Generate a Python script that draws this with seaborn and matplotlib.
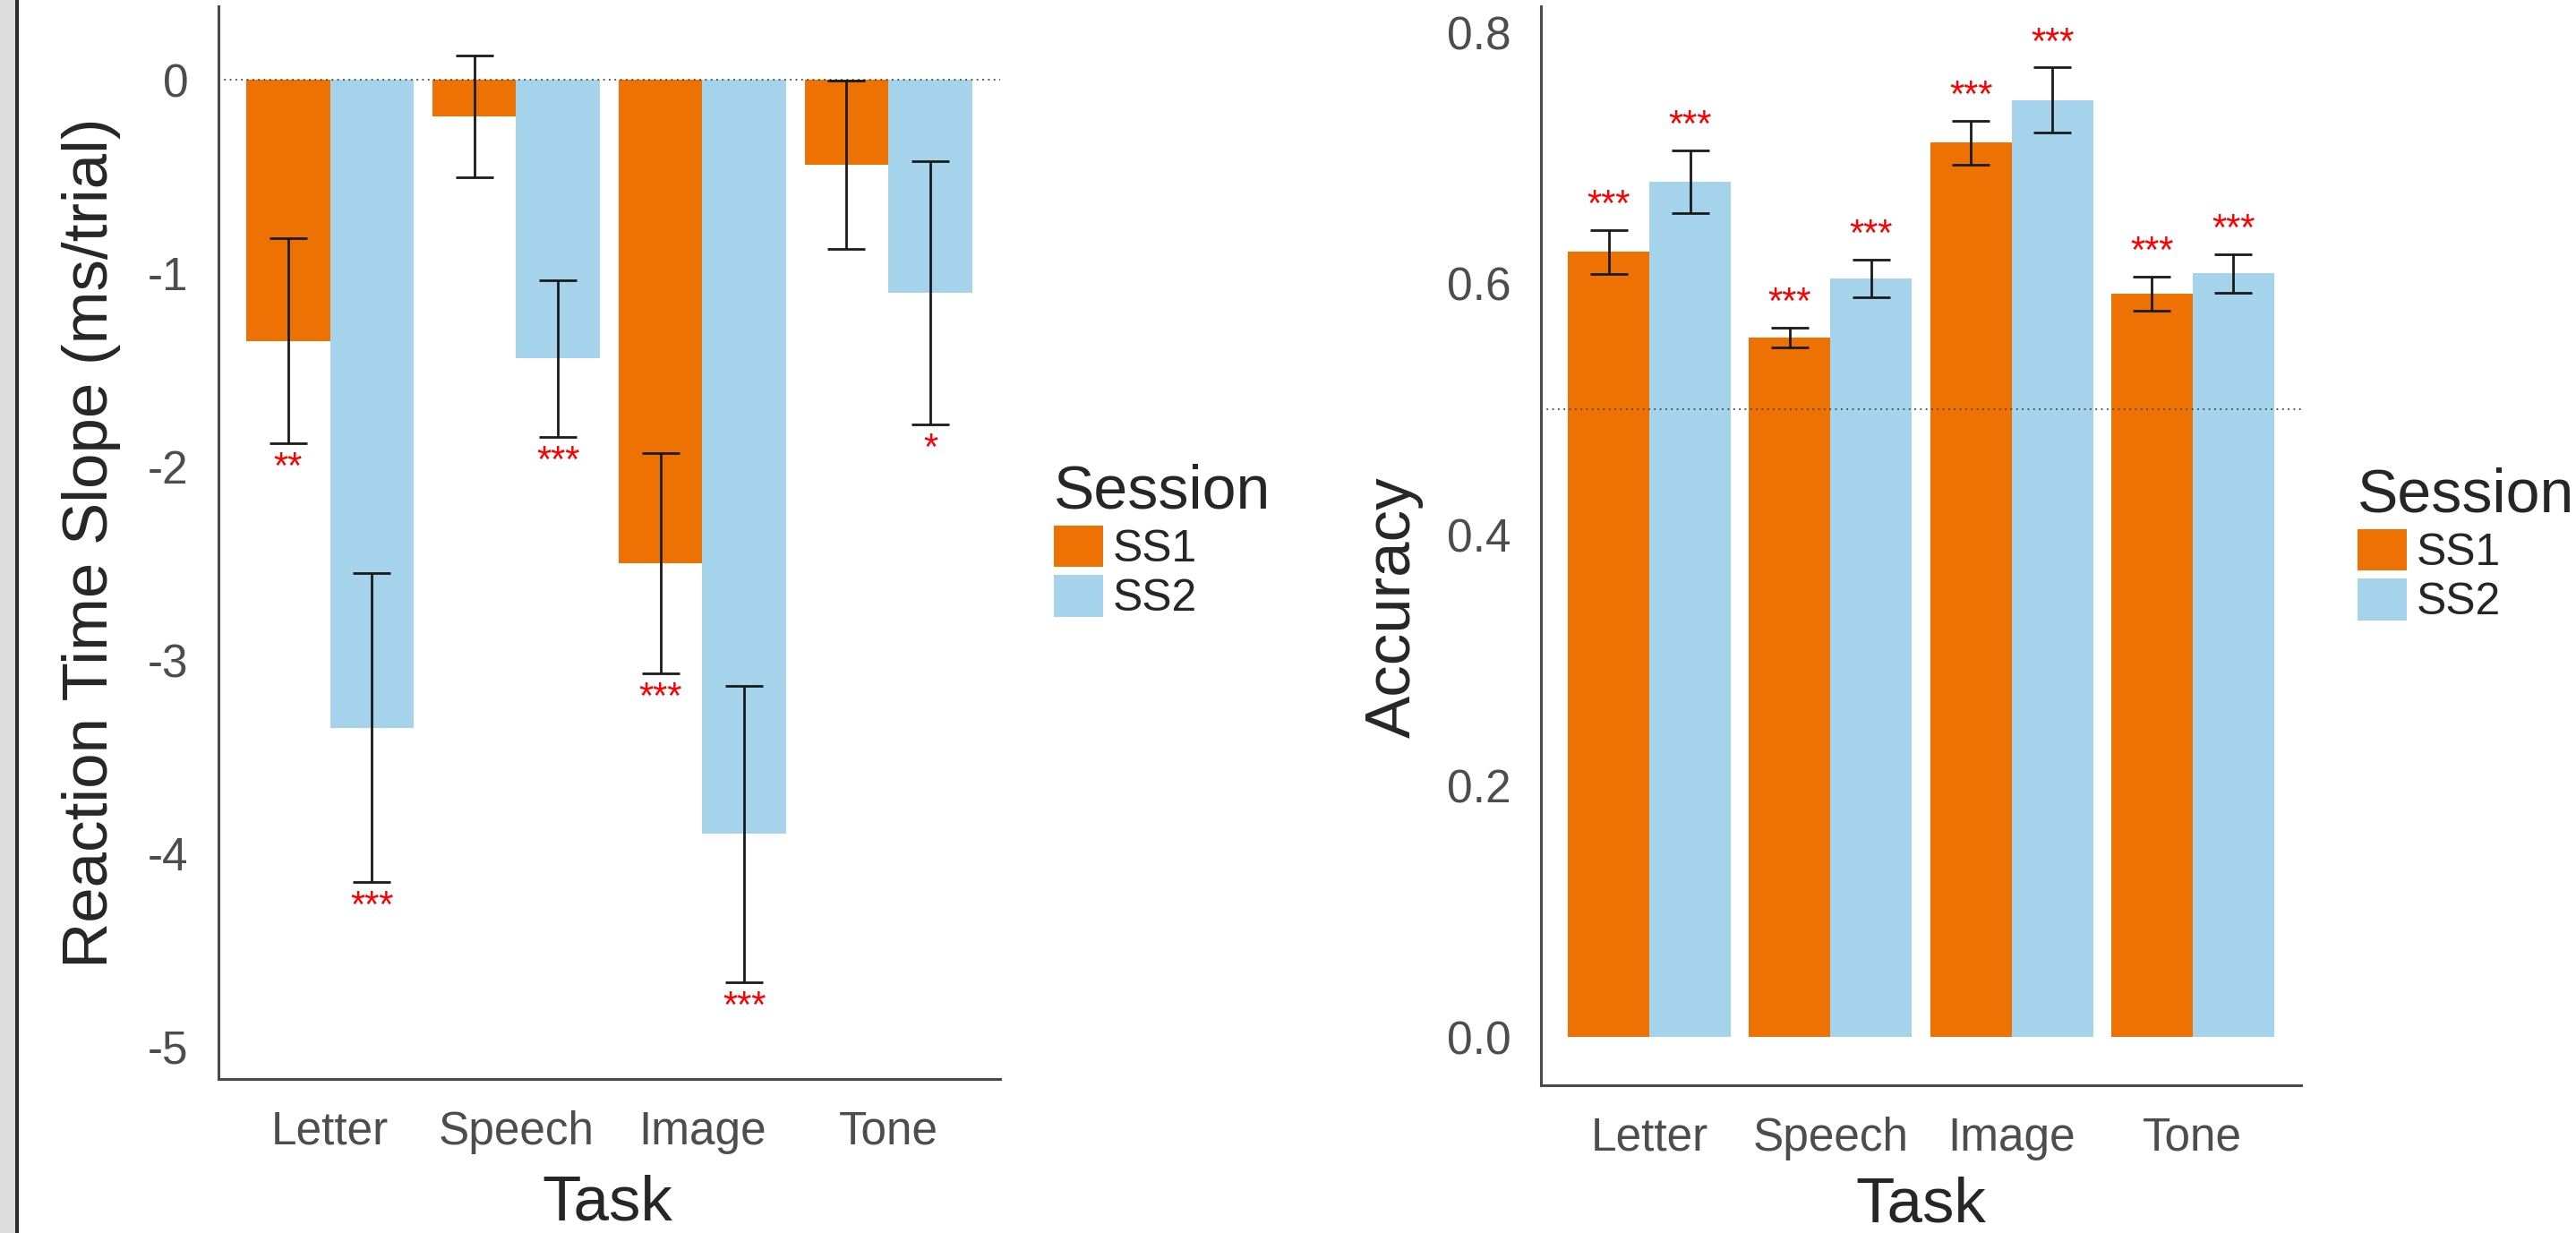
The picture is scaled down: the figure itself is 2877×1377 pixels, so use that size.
"""
plot.py — RT slope and accuracy by task / session
"""

import numpy as np
import pandas as pd
import matplotlib
matplotlib.use("Agg")
import matplotlib.pyplot as plt
import matplotlib.patches as mpatches
from matplotlib.ticker import FormatStrFormatter
import seaborn as sns

TASKS = ["Letter", "Speech", "Image", "Tone"]
SESSIONS = ["SS1", "SS2"]
SESS_COLORS = {"SS1": "#EE7203", "SS2": "#A6D3EC"}

# Reaction time slope (ms/trial)
rt_ss1 = [-1.35, -0.19, -2.50, -0.44]
rt_ss2 = [-3.35, -1.44, -3.90, -1.10]
rt_se_ss1 = [0.53, 0.315, 0.57, 0.435]
rt_se_ss2 = [0.80, 0.405, 0.765, 0.68]
rt_sig_ss1 = ["**", "", "***", ""]
rt_sig_ss2 = ["***", "***", "***", "*"]

# Accuracy
acc_ss1 = [0.625, 0.557, 0.712, 0.592]
acc_ss2 = [0.681, 0.604, 0.746, 0.608]
acc_se_ss1 = [0.0175, 0.008, 0.0175, 0.0135]
acc_se_ss2 = [0.025, 0.015, 0.026, 0.0155]
acc_sig_ss1 = ["***", "***", "***", "***"]
acc_sig_ss2 = ["***", "***", "***", "***"]

FONT = ["Liberation Sans", "DejaVu Sans"]
SPINE = "#4a4a4a"


def long_df(v1, v2, se1, se2, s1, s2):
    return pd.DataFrame({
        "Task": TASKS * 2,
        "Session": ["SS1"] * 4 + ["SS2"] * 4,
        "value": v1 + v2,
        "se": se1 + se2,
        "sig": s1 + s2,
    })


def draw_panel(ax, df, sig_side, sig_off, hline):
    sns.barplot(data=df, x="Task", y="value", hue="Session", order=TASKS,
                hue_order=SESSIONS, palette=SESS_COLORS, width=0.9,
                saturation=1, errorbar=None, linewidth=0, legend=False,
                ax=ax, zorder=1)
    ax.axhline(hline, color="#444444", linestyle=(0, (1, 2.5)),
               linewidth=1.3, zorder=2)

    for sess, cont in zip(SESSIONS, ax.containers):
        sub = df[df["Session"] == sess].set_index("Task").loc[TASKS]
        xs = [b.get_x() + b.get_width() / 2 for b in cont]
        ax.errorbar(xs, sub["value"], yerr=sub["se"], fmt="none",
                    ecolor="#1a1a1a", elinewidth=2.0, capsize=15,
                    capthick=2.0, zorder=3)
        for x, v, e, s in zip(xs, sub["value"], sub["se"], sub["sig"]):
            if not s:
                continue
            y = v + e + sig_off if sig_side > 0 else v - e - sig_off
            ax.text(x, y, s, color="#FF0000", fontsize=30, ha="center",
                    va="center", family=FONT, zorder=4)

    ax.set_xlim(-0.6, 3.6)
    sns.despine(ax=ax)
    for sp in ["left", "bottom"]:
        ax.spines[sp].set_color(SPINE)
        ax.spines[sp].set_linewidth(2.2)
    ax.tick_params(axis="both", length=15, width=2.0, color="#777777",
                   labelsize=37, labelcolor="#4d4d4d")
    ax.tick_params(axis="x", pad=10)
    ax.tick_params(axis="y", pad=9)
    ax.set_xlabel("Task", fontsize=51, family=FONT)
    ax.grid(False)


def add_legend(ax, x, y):
    handles = [mpatches.Patch(facecolor=SESS_COLORS[s], edgecolor="none",
                              label=s) for s in SESSIONS]
    leg = ax.legend(handles=handles, title="Session", loc="upper left",
                    bbox_to_anchor=(x, y), bbox_transform=ax.figure.transFigure,
                    frameon=False, fontsize=36, title_fontsize=49,
                    handlelength=1.1, handleheight=1.05, handletextpad=0.22,
                    labelspacing=0.1, borderpad=0, borderaxespad=0,
                    alignment="left", prop={"family": FONT, "size": 36})
    leg.get_title().set_family(FONT)


sns.set_theme(style="white")
plt.rcParams["font.family"] = FONT
plt.rcParams["axes.unicode_minus"] = False

fig = plt.figure(figsize=(28.77, 13.77), dpi=100)
fig.patch.set_facecolor("white")

# screenshot edge at the far left
fig.patches.append(mpatches.Rectangle((0, 0), 17 / 2877, 1, transform=fig.transFigure,
                                      facecolor="#dcdcdc", edgecolor="none"))
fig.patches.append(mpatches.Rectangle((17 / 2877, 0), 4 / 2877, 1,
                                      transform=fig.transFigure,
                                      facecolor="#2a2a2a", edgecolor="none"))

ax1 = fig.add_axes([0.0848, 0.1249, 0.3034, 0.870])
ax2 = fig.add_axes([0.5982, 0.1198, 0.2951, 0.8751])

rt_df = long_df(rt_ss1, rt_ss2, rt_se_ss1, rt_se_ss2, rt_sig_ss1, rt_sig_ss2)
acc_df = long_df(acc_ss1, acc_ss2, acc_se_ss1, acc_se_ss2,
                 acc_sig_ss1, acc_sig_ss2)

draw_panel(ax1, rt_df, sig_side=-1, sig_off=0.13, hline=0)
ax1.set_ylim(-5.167, 0.38)
ax1.set_yticks([0, -1, -2, -3, -4, -5])
ax1.set_ylabel("Reaction Time Slope (ms/trial)", fontsize=51, family=FONT)
ax1.yaxis.set_label_coords(-0.125, 0.5)
ax1.xaxis.set_label_coords(0.497, -0.089)

draw_panel(ax2, acc_df, sig_side=1, sig_off=0.019, hline=0.5)
ax2.set_ylim(-0.0385, 0.8207)
ax2.set_yticks([0.0, 0.2, 0.4, 0.6, 0.8])
ax2.yaxis.set_major_formatter(FormatStrFormatter("%.1f"))
ax2.set_ylabel("Accuracy", fontsize=51, family=FONT)
ax2.yaxis.set_label_coords(-0.155, 0.443)
ax2.xaxis.set_label_coords(0.4995, -0.084)

add_legend(ax1, 1177 / 2877, 1 - 518 / 1377)
add_legend(ax2, 2633 / 2877, 1 - 522 / 1377)

fig.savefig("out.png", dpi=100)
plt.close(fig)
